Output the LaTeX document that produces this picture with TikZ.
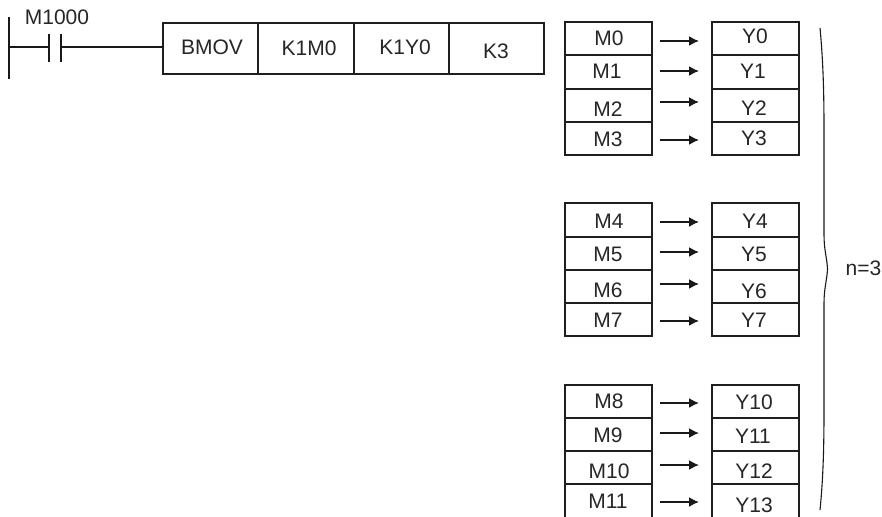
\documentclass[tikz,border=0pt]{standalone}
\usepackage{fontspec}
\setmainfont{Liberation Sans}
\usetikzlibrary{arrows.meta}
\tikzset{
  x=1pt,y=-1pt,
  ink/.style={draw=black!88,line width=1.8pt},
  cell/.style={ink,rectangle,inner sep=0pt,outer sep=0pt,anchor=north west,fill=none},
  txt/.style={inner sep=0pt,anchor=base,text=black!85,font=\fontsize{21}{25}\selectfont},
  wire/.style={draw=black!90,line width=2.2pt},
  flow/.style={draw=black!90,line width=1.6pt,-{Latex[length=10pt,width=10pt]}},
}
\begin{document}
\begin{tikzpicture}
\useasboundingbox (0,0) rectangle (882,516);
\begin{scope}
\clip (0,0) rectangle (882,516);
% ladder rung
\coordinate (railT) at (9,17); \coordinate (railB) at (9,79);
\coordinate (railM) at (9,47);
\coordinate (cLT) at (49,34); \coordinate (cLB) at (49,62); \coordinate (cLM) at (49,47);
\coordinate (cRT) at (61,34); \coordinate (cRB) at (61,62); \coordinate (cRM) at (61,47);
\draw[wire] (railT) -- (railB);
\draw[wire] (cLT) -- (cLB);
\draw[wire] (cRT) -- (cRB);
\draw[wire] (railM) -- (cLM);
\node[txt] (m1000) at (57,25) {M1000};
% instruction boxes
\foreach \n/\xa/\w/\cx/\by/\t in {bmov/163/95/212/55/BMOV,kma/258/96/309/56/K1M0,kya/354/95/405/55/K1Y0,kc/449/95/496/59/K3}{
  \node[cell,minimum width=\w pt,minimum height=51pt] (\n) at (\xa,23) {};
  \node[txt] (t\n) at (\cx,\by) {\t};
}
\draw[wire] (cRM) -- (bmov.west |- cRM);
% register cells: index / top / height / M x / M base / M text / Y x / Y base / Y text / arrow y
\foreach \i/\yt/\h/\mx/\mb/\mt/\yx/\yb/\yy/\ay in {
 0/22/33/609/46/M0/755/44/Y0/41,
 1/55/34/607/79/M1/753/79/Y1/71,
 2/89/33/608/116/M2/754/115/Y2/102,
 3/122/33/608/146/M3/754/145/Y3/140,
 4/203/34/609/228/M4/755/228/Y4/222,
 5/237/33/608/261/M5/754/261/Y5/252,
 6/270/33/608/297/M6/754/298/Y6/284,
 7/303/33/608/327/M7/754/327/Y7/321,
 8/385/33/609/408/M8/754/409/Y10/403,
 9/418/33/608/442/M9/753/443/Y11/433,
 10/451/33/609/478/M10/754/478/Y12/465,
 11/484/40/608/508/M11/754/512/Y13/502}{
  \node[cell,minimum width=87pt,minimum height=\h pt] (m\i) at (565,\yt) {};
  \node[cell,minimum width=87pt,minimum height=\h pt] (y\i) at (712,\yt) {};
  \node[txt] (tm\i) at (\mx,\mb) {\mt};
  \node[txt] (ty\i) at (\yx,\yb) {\yy};
  \coordinate (as\i) at (660,\ay);
  \coordinate (ae\i) at (699,\ay);
  \draw[flow] (as\i) -- (ae\i);
}
% brace
\coordinate (bT) at (820,28); \coordinate (bB) at (820,510); \coordinate (bP) at (827.5,269);
\draw[draw=black!90,line width=1.1pt] (bT) .. controls (823,60) and (824,90) .. (824,130)
  -- (824,235) .. controls (824,250) and (827,258) .. (bP)
  .. controls (827,280) and (824,288) .. (824,303)
  -- (824,410) .. controls (824,450) and (823,480) .. (bB);
\node[txt,anchor=base west] (n3) at (845.5,275) {n=3};
\end{scope}
\end{tikzpicture}
\end{document}
